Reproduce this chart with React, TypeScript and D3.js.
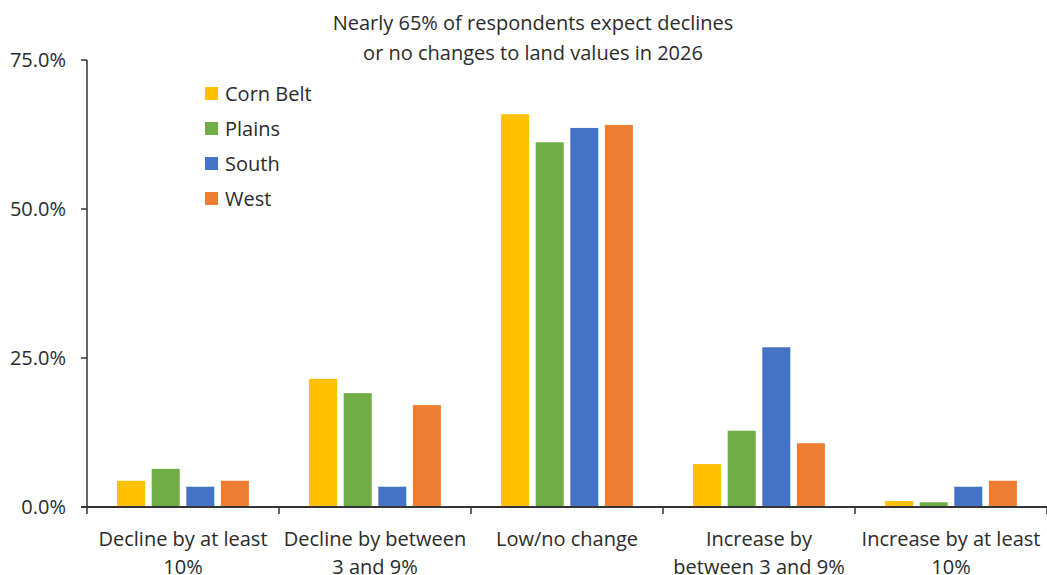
import React from 'react';
import * as d3 from 'd3';

const categories = [
  'Decline by at least 10%',
  'Decline by between 3 and 9%',
  'Low/no change',
  'Increase by between 3 and 9%',
  'Increase by at least 10%',
];
// how each category label is wrapped on the axis
const categoryLines = [
  ['Decline by at least', '10%'],
  ['Decline by between', '3 and 9%'],
  ['Low/no change'],
  ['Increase by', 'between 3 and 9%'],
  ['Increase by at least', '10%'],
];
const series = ['Corn Belt', 'Plains', 'South', 'West'];
const colors = ['#FFC000', '#70AD47', '#4472C4', '#ED7D31'];

// percent of respondents, one array per region
const cornBelt = [4.4, 21.5, 65.9, 7.2, 1.0];
const plains = [6.4, 19.1, 61.2, 12.8, 0.8];
const south = [3.4, 3.4, 63.6, 26.8, 3.4];
const west = [4.4, 17.1, 64.1, 10.7, 4.4];
const values = [cornBelt, plains, south, west];

const yTicks = [0, 25, 50, 75];
const titleLines = ['Nearly 65% of respondents expect declines', 'or no changes to land values in 2026'];

const FONT = '"Open Sans", sans-serif';
const FS = 20;
const TEXT = '#2b2b2b';
const AXIS = '#333333';

export default function App() {
  const width = 1047;
  const height = 575;
  const margin = { top: 60, right: 0, bottom: 68, left: 87 };

  const x0 = d3.scaleBand<string>().domain(categories).range([margin.left, width - margin.right]);
  const x1 = d3
    .scaleBand<string>()
    .domain(series)
    .range([0, x0.bandwidth()])
    .paddingInner(0.19)
    .paddingOuter(0.87);
  const y = d3.scaleLinear().domain([0, 75]).range([height - margin.bottom, margin.top]);
  const y0 = y(0);

  return (
    <svg
      width={width}
      height={height}
      style={{ position: 'absolute', left: 0, top: 0, background: '#fff' }}
      fontFamily={FONT}
    >
      {/* title */}
      {titleLines.map((t, i) => (
        <text key={t} x={533} y={30 + i * 30} textAnchor="middle" fontSize={FS} fill={TEXT}>
          {t}
        </text>
      ))}

      {/* bars */}
      {categories.map((c, ci) => (
        <g key={c} transform={`translate(${x0(c)},0)`}>
          {series.map((s, si) => (
            <rect
              key={s}
              x={x1(s)}
              y={y(values[si][ci])}
              width={x1.bandwidth()}
              height={y0 - y(values[si][ci])}
              fill={colors[si]}
            />
          ))}
        </g>
      ))}

      {/* y axis */}
      <line x1={margin.left} x2={margin.left} y1={y(75)} y2={y0} stroke={AXIS} strokeWidth={1.5} />
      {yTicks.map((t) => (
        <g key={t}>
          <line x1={margin.left - 6} x2={margin.left} y1={y(t)} y2={y(t)} stroke={AXIS} strokeWidth={1.5} />
          <text x={66} y={y(t)} dy="0.36em" textAnchor="end" fontSize={FS} fill={TEXT}>
            {d3.format('.1f')(t) + '%'}
          </text>
        </g>
      ))}

      {/* x axis */}
      <line x1={margin.left - 6} x2={width} y1={y0} y2={y0} stroke={AXIS} strokeWidth={2} />
      {categories.map((c) => (
        <line
          key={c}
          x1={x0(c)! + x0.bandwidth()}
          x2={x0(c)! + x0.bandwidth()}
          y1={y0}
          y2={y0 + 7}
          stroke={AXIS}
          strokeWidth={1.5}
        />
      ))}
      <line x1={margin.left} x2={margin.left} y1={y0} y2={y0 + 7} stroke={AXIS} strokeWidth={1.5} />
      {categories.map((c, ci) => (
        <text key={c} textAnchor="middle" fontSize={FS} fill={TEXT}>
          {categoryLines[ci].map((l, li) => (
            <tspan key={l} x={x0(c)! + x0.bandwidth() / 2} y={546 + li * 28}>
              {l}
            </tspan>
          ))}
        </text>
      ))}

      {/* legend */}
      {series.map((s, si) => (
        <g key={s} transform={`translate(205,${87 + si * 35})`}>
          <rect width={13} height={13} fill={colors[si]} />
          <text x={20} y={14} fontSize={FS} fill={TEXT}>
            {s}
          </text>
        </g>
      ))}
    </svg>
  );
}
